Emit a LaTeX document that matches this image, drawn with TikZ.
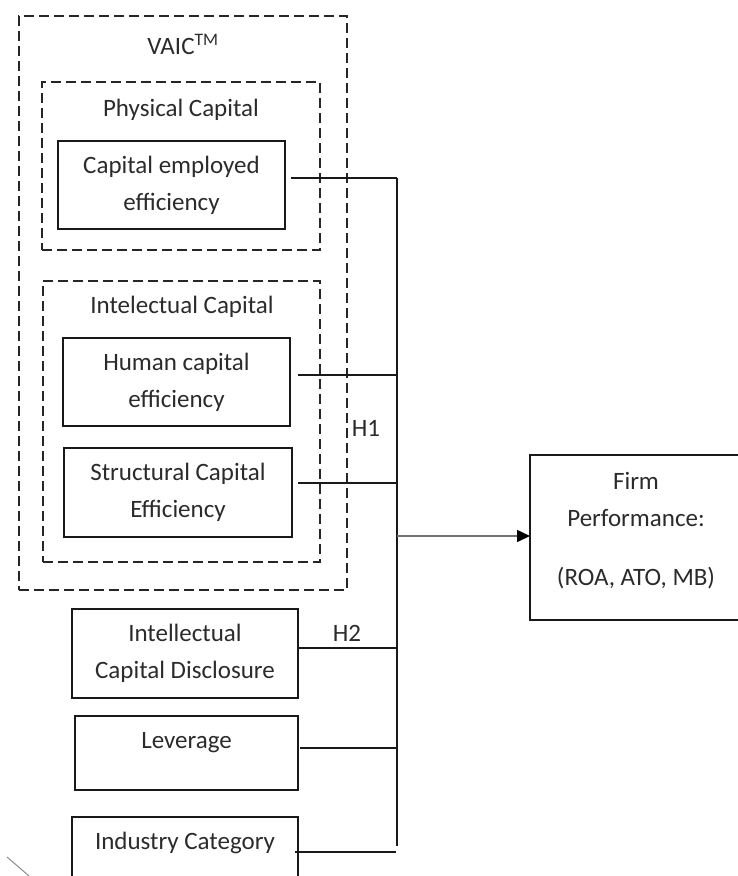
\documentclass[tikz,border=0pt]{standalone}
\usepackage{fontspec}
\setmainfont{Carlito}
\usetikzlibrary{arrows.meta}
\definecolor{txt}{HTML}{2B2B2B}
\tikzset{
  every node/.style={font=\fontsize{25}{37}\selectfont, text=txt, outer sep=0pt, inner sep=0pt, align=center},
  dbox/.style={draw=black!85, line width=1.5pt, dash pattern=on 10pt off 5pt},
  sbox/.style={draw=black!90, line width=1.6pt},
  conn/.style={draw=black!90, line width=1.6pt},
  lbl/.style={}
}
\begin{document}
\begin{tikzpicture}[x=1pt,y=-1pt]
\useasboundingbox (0,0) rectangle (737,876);
% dashed groups
\node[dbox, minimum width=328pt, minimum height=574pt] (vaic) at (183,303) {};
\node[lbl] (vaict) at (183,44) {VAIC\textsuperscript{TM}};
\node[dbox, minimum width=278pt, minimum height=168pt] (phys) at (181,166) {};
\node[lbl] (physt) at (181,110) {Physical Capital};
\node[dbox, minimum width=277pt, minimum height=281pt] (intel) at (181.5,421.5) {};
\node[lbl] (intelt) at (182,307) {Intelectual Capital};
% boxes
\node[sbox, minimum width=227pt, minimum height=88pt] (cee) at (171.5,185) {Capital employed\\efficiency};
\node[sbox, minimum width=227pt, minimum height=88pt] (hce) at (176.5,382) {Human capital\\efficiency};
\node[sbox, minimum width=228pt, minimum height=89pt] (sce) at (178,492.5) {Structural Capital\\Efficiency};
\node[sbox, minimum width=226pt, minimum height=89pt] (icd) at (185,653.5) {Intellectual\\Capital Disclosure};
\node[sbox, minimum width=223pt, minimum height=74pt] (lev) at (186.5,753) {};
\node[lbl] (levt) at (186.5,743) {Leverage};
\node[sbox, minimum width=226pt, minimum height=74pt] (ind) at (185,854) {};
\node[lbl] (indt) at (185,843) {Industry Category};
\node[sbox, minimum width=215pt, minimum height=165pt] (firm) at (637.5,537.5) {};
\node[lbl] (firmt) at (636,531) {Firm\\Performance:\\[22pt](ROA, ATO, MB)};
% bus
\coordinate (bustop) at (397,178);
\coordinate (busbot) at (397,846);
\draw[conn] (bustop) -- (busbot);
% connectors
\path ([xshift=6pt,yshift=7pt]cee.east) coordinate (a1);
\draw[conn] (a1) -- (a1 -| bustop);
\path ([xshift=8pt,yshift=7pt]hce.east) coordinate (a2);
\draw[conn] (a2) -- (a2 -| bustop);
\path ([xshift=6pt,yshift=9.5pt]sce.east) coordinate (a3);
\draw[conn] (a3) -- (a3 -| bustop);
\path ([xshift=-1pt,yshift=5.5pt]icd.east) coordinate (a4);
\draw[conn] (a4) -- (a4 -| bustop);
\path ([xshift=2pt,yshift=5pt]lev.east) coordinate (a5);
\draw[conn] (a5) -- (a5 -| bustop);
\path ([xshift=-3pt,yshift=2pt]ind.east) coordinate (a6);
\draw[conn] (a6) -- ([xshift=-1pt]a6 -| bustop);
% arrow
\draw[line width=1.6pt, draw=black!55, -{Triangle[length=13pt,width=12pt,color=black]}] ([yshift=1.5pt]firm.west -| bustop) -- ([yshift=1.5pt]firm.west);
% labels
\node[lbl] (h1) at (366,428) {H1};
\node[lbl] (h2) at (347,633) {H2};
% page edge arc
\draw[black!45, line width=1pt] (7,857) .. controls (14,863) and (21,869) .. (29,876);
\end{tikzpicture}
\end{document}
